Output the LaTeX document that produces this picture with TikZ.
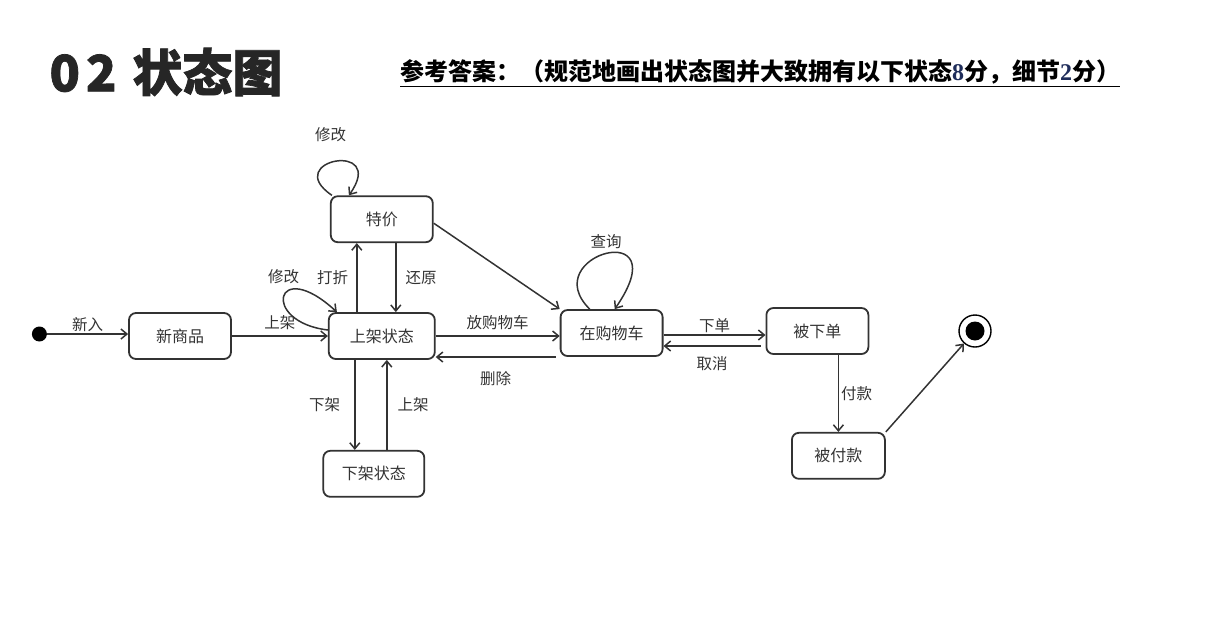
\documentclass[tikz,border=0pt]{standalone}
\usepackage{fontspec}
\usepackage{xcolor}
\usepackage{tikz}
\usetikzlibrary{arrows.meta, positioning, calc}
\newfontfamily\cjk{Noto Sans CJK SC}
\newfontfamily\cjktitle{Noto Sans CJK SC}[BoldFeatures={FakeBold=1.5}]
\newfontfamily\numfont{Liberation Serif}
\definecolor{linegray}{RGB}{51,51,51}
\definecolor{scorenavy}{RGB}{31,45,90}
\tikzstyle{state} = [rectangle, rounded corners=7pt, minimum width=102pt, minimum height=46pt, text centered, draw=linegray, line width=1.8pt, text=linegray, font=\cjk\fontsize{16}{19}\selectfont]
\tikzstyle{trans} = [->, line width=1.5pt, draw=linegray]
\tikzstyle{lbl} = [text=linegray, font=\cjk\fontsize{15.5}{18}\selectfont, inner sep=2pt]
\tikzstyle{startdot} = [circle, fill=black, inner sep=0pt, minimum size=15pt]
\tikzstyle{endring} = [circle, draw=black, line width=1.4pt, fill=white, inner sep=0pt, minimum size=32pt]
\tikzstyle{enddot} = [circle, fill=black, inner sep=0pt, minimum size=19pt]
\tikzstyle{title} = [font=\cjktitle\bfseries\fontsize{50}{58}\selectfont, text=black!85]
\tikzstyle{answer} = [font=\cjk\bfseries\fontsize{24}{28}\selectfont, text=black]

\begin{document}
\begin{tikzpicture}[x=1pt, y=-1pt, >={Straight Barb[length=6pt,width=10pt]}]
	\useasboundingbox (0,0) rectangle (1222,627);
	\node[title] (title) at (166,72) {0\hspace{6pt}2\hspace{16pt}状态图};
	\node[answer] (answer) at (760,73) {\underline{参考答案：（规范地画出状态图并大致拥有以下状态{\numfont\color{scorenavy}8}分，细节{\numfont\color{scorenavy}2}分）}};
	
	\node[state] (newg) at (180,336) {新商品};
	\node[startdot, left=81pt of newg, yshift=2pt] (init) {};
	\node[state, minimum width=106pt, right=96pt of newg] (shelf) {上架状态};
	\node[state, above=69pt of shelf] (special) {特价};
	\node[state, minimum width=101pt, below=90pt of shelf, xshift=-8pt] (offshelf) {下架状态};
	\node[state, right=124pt of shelf, yshift=3pt] (cart) {在购物车};
	\node[state, right=102pt of cart, yshift=2pt] (ordered) {被下单};
	\node[state, minimum width=93pt, below=77pt of ordered, xshift=21pt] (paid) {被付款};
	\node[endring, right=89pt of ordered] (final) {};
	\node[enddot] (finaldot) at (final) {};
	
	%arrow
	\draw[trans] (init) -- node[lbl, above] {新入} (newg.west |- init);
	\draw[trans] (newg) -- node[lbl, above=4pt] {上架} (shelf);
	\draw[trans] (shelf.east) -- node[lbl, above=3pt] {放购物车} (cart.west |- shelf.east);
	\draw[trans] ([xshift=-4pt,yshift=-24pt]cart.west) -- node[lbl, below=12pt] {删除} ([yshift=-21pt]shelf.east);
	\draw[trans] ([yshift=-2pt]cart.east) -- node[lbl, above] {下单} ([yshift=-4pt]ordered.west);
	\draw[trans] ([xshift=-5pt,yshift=-15pt]ordered.west) -- node[lbl, below=8pt] {取消} ([yshift=-13pt]cart.east);
	\draw[trans] ([xshift=21pt]ordered.south) -- node[lbl, right=0pt] {付款} (paid.north);
	\draw[trans] (paid.north east) -- (final);
	\draw[trans] ([yshift=-4pt]special.east) -- (cart.north west);
	\draw[trans] ([xshift=-25pt]shelf.north) -- node[lbl, left=6pt] {打折} ([xshift=-25pt]special.south);
	\draw[trans] ([xshift=14pt]special.south) -- node[lbl, right=7pt] {还原} ([xshift=14pt]shelf.north);
	\draw[trans] ([xshift=-27pt]shelf.south) -- node[lbl, left=12pt] {下架} ([xshift=-19pt]offshelf.north);
	\draw[trans] ([xshift=13pt]offshelf.north) -- node[lbl, right=8pt] {上架} ([xshift=5pt]shelf.south);
	
	%self loops
	\draw[trans] ([yshift=6pt]shelf.west) .. controls (260,322) and (275,255) .. node[lbl, pos=0.5, above=10pt] {修改} ([xshift=9pt]shelf.north west);
	\draw[trans] ([xshift=2pt]special.north west) .. controls (280,160) and (388,140) .. node[lbl, pos=0.5, above=17pt, xshift=-5pt] {修改} ([xshift=19pt]special.north west);
	\draw[trans] ([xshift=30pt]cart.north west) .. controls (535,255) and (680,215) .. node[lbl, pos=0.5, above=2pt] {查询} ([xshift=55pt]cart.north west);
\end{tikzpicture}
\end{document}
